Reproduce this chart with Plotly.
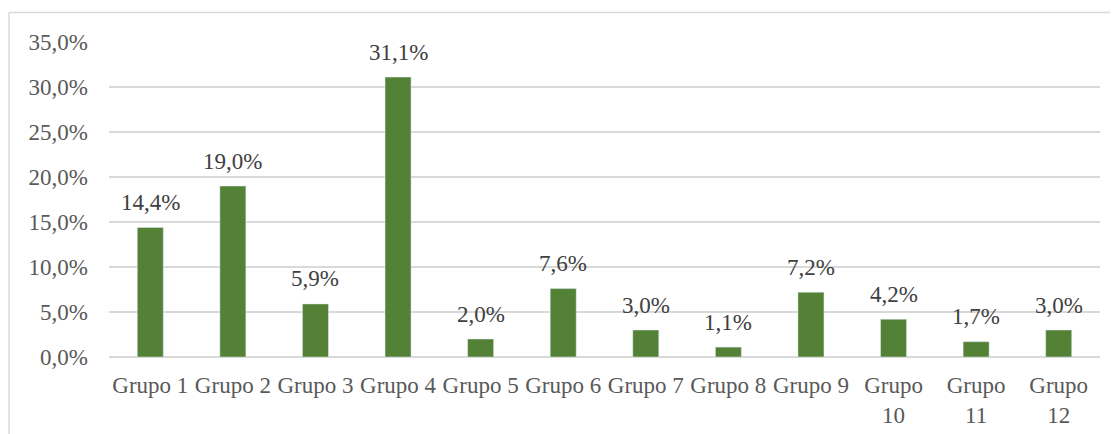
import plotly.graph_objects as go

categories = ["Grupo 1", "Grupo 2", "Grupo 3", "Grupo 4", "Grupo 5", "Grupo 6",
              "Grupo 7", "Grupo 8", "Grupo 9", "Grupo<br>10", "Grupo<br>11", "Grupo<br>12"]
values = [14.4, 19.0, 5.9, 31.1, 2.0, 7.6, 3.0, 1.1, 7.2, 4.2, 1.7, 3.0]
y_ticks = [0, 5, 10, 15, 20, 25, 30, 35]
y_tick_labels = ["0,0%", "5,0%", "10,0%", "15,0%", "20,0%", "25,0%", "30,0%", "35,0%"]

# page body has an 8px default margin, so the figure is sized to fit inside it
OFF = 8
W, H = 1118 - OFF, 434 - OFF
L, R, T, B = 109 - OFF, 18, 42 - OFF, 77
pw, ph = W - L - R, H - T - B

FONT = "Liberation Serif"
FS = 23
fig = go.Figure()
fig.add_trace(go.Bar(x=categories, y=values, marker_color="#538135", width=0.315))

for c, v in zip(categories, values):
    fig.add_annotation(x=c, y=v, text=f"{v:.1f}%".replace(".", ","), showarrow=False,
                       yanchor="middle", yshift=25,
                       font=dict(family=FONT, size=FS, color="#404040"))

# chart border (top and left visible), given in page pixels
def px_x(p): return (p - OFF - L) / pw
def px_y(p): return (H - B - (p - OFF)) / ph
fig.add_shape(type="line", xref="paper", yref="paper", x0=px_x(9), x1=px_x(1130),
              y0=px_y(12.5), y1=px_y(12.5), line=dict(color="#d9d9d9", width=1.5))
fig.add_shape(type="line", xref="paper", yref="paper", x0=px_x(9), x1=px_x(9),
              y0=px_y(12.5), y1=px_y(450), line=dict(color="#d9d9d9", width=1.5))

fig.update_layout(
    width=W, height=H, margin=dict(l=L, r=R, t=T, b=B, autoexpand=False),
    paper_bgcolor="white", plot_bgcolor="white",
    separators=",.", showlegend=False, bargap=0.685,
    font=dict(family=FONT, size=FS, color="#595959"),
    xaxis=dict(showgrid=False, showline=False, ticks="", ticklabelstandoff=12,
               automargin=False,
               tickfont=dict(family=FONT, size=FS, color="#595959")),
    yaxis=dict(range=[0, 35], tickvals=y_ticks, ticktext=y_tick_labels,
               showgrid=True, gridcolor="#d9d9d9", gridwidth=1.5,
               zeroline=True, zerolinecolor="#d9d9d9", zerolinewidth=1.5,
               showline=False, ticks="", ticklabelstandoff=20, automargin=False,
               tickfont=dict(family=FONT, size=FS, color="#595959")),
)
fig.write_html("out.html")
